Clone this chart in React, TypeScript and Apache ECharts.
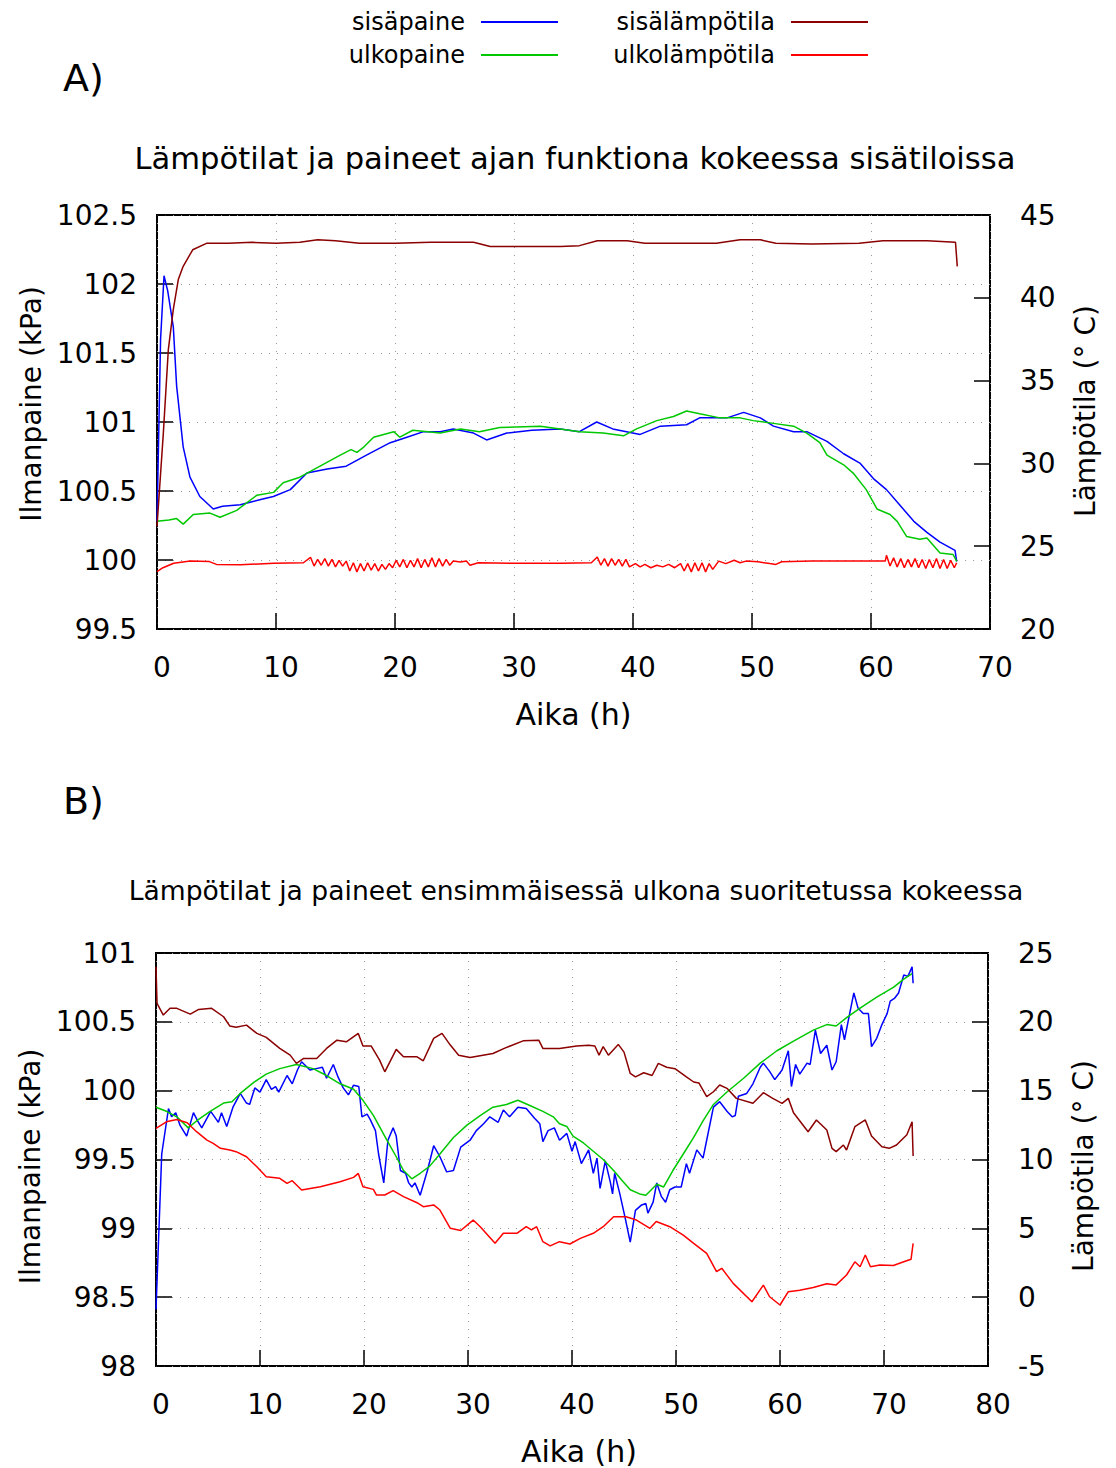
import React, { useEffect, useRef } from "react";
import * as echarts from "echarts";

// ---------- Legend / series names ----------
const NAME_SISAPAINE = "sisäpaine";
const NAME_ULKOPAINE = "ulkopaine";
const NAME_SISALAMPO = "sisälämpötila";
const NAME_ULKOLAMPO = "ulkolämpötila";

// ---------- Titles ----------
const TITLE_A = "Lämpötilat ja paineet ajan funktiona kokeessa sisätiloissa";
const TITLE_B = "Lämpötilat ja paineet ensimmäisessä ulkona suoritetussa kokeessa";
const X_NAME = "Aika (h)";
const Y_LEFT_NAME = "Ilmanpaine (kPa)";
const Y_RIGHT_NAME = "Lämpötila (° C)";

// ---------- Axis ranges [min, max, interval] ----------
const A_X_RANGE = [0, 70, 10];
const A_P_RANGE = [99.5, 102.5, 0.5];
const A_T_RANGE = [20, 45, 5];
const B_X_RANGE = [0, 80, 10];
const B_P_RANGE = [98, 101, 0.5];
const B_T_RANGE = [-5, 25, 5];

// ---------- Panel A data: [time h, value] ----------
const A_SISAPAINE = [
  [0, 100.28], [0.3, 101.6], [0.59, 102.06], [0.9, 101.95], [1.37, 101.69], [1.65, 101.26],
  [2.2, 100.82], [2.77, 100.6], [3.6, 100.46], [4.73, 100.37], [5.5, 100.39], [7.0, 100.4],
  [7.9, 100.42], [8.8, 100.44], [9.78, 100.46], [11.2, 100.51], [12.6, 100.63], [14.3, 100.66],
  [15.9, 100.68], [17.6, 100.76], [19.6, 100.85], [21.0, 100.89], [22.4, 100.93], [23.8, 100.93],
  [24.9, 100.95], [26.6, 100.92], [27.7, 100.87], [29.4, 100.92], [31.5, 100.94], [33.9, 100.95],
  [35.5, 100.93], [36.95, 101.0], [38.3, 100.95], [40.6, 100.91], [42.3, 100.97], [44.5, 100.98],
  [45.6, 101.03], [47.9, 101.03], [49.3, 101.07], [50.7, 101.03], [51.8, 100.97], [53.5, 100.93],
  [54.6, 100.93], [56.3, 100.86], [57.7, 100.77], [59.1, 100.7], [60.2, 100.59], [61.3, 100.51],
  [62.4, 100.4], [63.6, 100.28], [64.7, 100.2], [65.8, 100.13], [67.06, 100.07], [67.2, 99.99],
];

const A_ULKOPAINE = [
  [0, 100.28], [1.0, 100.29], [1.65, 100.3], [2.2, 100.26], [3.05, 100.33], [4.45, 100.34],
  [5.3, 100.31], [6.7, 100.36], [8.4, 100.47], [9.8, 100.49], [10.6, 100.56], [12.0, 100.6],
  [13.7, 100.68], [15.4, 100.76], [16.3, 100.8], [16.8, 100.78], [17.4, 100.82], [18.2, 100.89],
  [19.9, 100.93], [20.4, 100.89], [21.5, 100.94], [23.8, 100.92], [25.5, 100.95], [27.1, 100.93],
  [28.8, 100.96], [32.2, 100.97], [33.9, 100.95], [35.5, 100.93], [37.5, 100.92], [39.2, 100.9],
  [40.3, 100.95], [42.0, 101.01], [43.4, 101.04], [44.5, 101.08], [45.6, 101.06], [47.3, 101.03],
  [49.0, 101.03], [50.1, 101.01], [51.8, 100.99], [53.5, 100.97], [54.6, 100.92], [55.7, 100.85],
  [56.3, 100.76], [57.7, 100.69], [58.5, 100.63], [59.6, 100.51], [60.5, 100.37], [61.6, 100.33],
  [62.2, 100.28], [63.0, 100.17], [64.1, 100.15], [64.7, 100.16], [65.8, 100.05], [66.9, 100.04],
  [67.2, 99.99],
];

const A_SISALAMPO = [
  [0, 26.2], [0.53, 31.8], [0.95, 36.85], [1.37, 39.3], [1.79, 41.1], [2.2, 41.9], [3.0, 42.9],
  [4.2, 43.3], [6, 43.3], [8, 43.35], [10, 43.3], [12, 43.35], [13.5, 43.5], [15, 43.45],
  [17, 43.3], [20, 43.3], [23, 43.35], [26.6, 43.35], [28, 43.1], [31, 43.1], [33.9, 43.1],
  [35.5, 43.15], [37, 43.45], [39.5, 43.45], [41, 43.3], [44, 43.3], [47, 43.3], [49, 43.5],
  [50.7, 43.5], [52, 43.3], [55, 43.25], [59, 43.3], [61, 43.45], [64.7, 43.45], [67.1, 43.35],
  [67.25, 41.9],
];

const A_ULKOLAMPO = [
  [0, 23.46], [0.5, 23.7], [1.4, 23.97], [2.8, 24.1], [4.4, 24.07], [5.0, 23.9], [7.0, 23.88],
  [9.8, 23.97], [12.3, 24.0], [12.9, 24.33], [13.2, 23.8], [13.5, 24.2], [13.8, 23.85], [14.1, 24.25],
  [14.4, 23.8], [14.7, 24.2], [15.0, 23.75], [15.3, 24.15], [15.6, 23.8], [15.9, 24.1], [16.2, 23.5],
  [16.5, 24.0], [16.8, 23.45], [17.1, 23.95], [17.4, 23.5], [17.7, 24.0], [18.0, 23.55], [18.3, 23.95],
  [18.6, 23.5], [18.9, 23.9], [19.2, 23.6], [19.5, 23.95], [19.8, 23.7], [20.1, 24.15], [20.4, 23.75],
  [20.7, 24.2], [21.0, 23.7], [21.3, 24.15], [21.6, 23.75], [21.9, 24.25], [22.2, 23.7], [22.5, 24.2],
  [22.8, 23.75], [23.1, 24.3], [23.4, 23.75], [23.7, 24.25], [24.0, 23.8], [24.3, 24.2], [24.6, 23.85],
  [24.9, 24.1], [25.5, 24.05], [26.0, 24.1], [26.3, 23.85], [27, 24.0], [30, 23.97], [33.9, 23.97],
  [36.5, 24.0], [37.0, 24.35], [37.3, 23.85], [37.6, 24.25], [37.9, 23.8], [38.2, 24.25], [38.5, 23.85],
  [38.8, 24.2], [39.1, 23.8], [39.4, 24.2], [39.7, 23.75], [40.2, 23.95], [40.6, 23.75], [41.0, 23.9],
  [41.5, 23.7], [42, 23.85], [42.5, 23.75], [43, 23.9], [43.5, 23.7], [44.0, 23.95], [44.3, 23.5],
  [44.6, 23.95], [44.9, 23.45], [45.2, 24.0], [45.5, 23.5], [45.8, 24.0], [46.1, 23.45], [46.4, 23.95],
  [46.7, 23.6], [47.2, 24.1], [47.8, 23.95], [48.5, 24.15], [49.0, 24.0], [49.5, 24.1], [50.5, 24.06],
  [51.5, 23.95], [52, 23.9], [52.5, 24.06], [55, 24.1], [58, 24.1], [61.2, 24.1], [61.3, 24.45],
  [61.6, 23.8], [61.9, 24.3], [62.2, 23.75], [62.5, 24.25], [62.8, 23.7], [63.1, 24.2], [63.4, 23.75],
  [63.7, 24.25], [64.0, 23.7], [64.3, 24.2], [64.6, 23.65], [64.9, 24.2], [65.2, 23.7], [65.5, 24.25],
  [65.8, 23.65], [66.1, 24.2], [66.4, 23.65], [66.7, 24.15], [67.0, 23.7], [67.2, 24.0],
];

// ---------- Panel B data ----------
const B_SISAPAINE = [
  [0, 98.41], [0.55, 99.54], [1.2, 99.87], [1.5, 99.81], [1.9, 99.84], [2.3, 99.75], [2.95, 99.67],
  [3.6, 99.84], [4.0, 99.78], [4.4, 99.73], [5.26, 99.85], [6.0, 99.77], [6.3, 99.84], [6.8, 99.74],
  [7.4, 99.88], [8.1, 99.98], [8.7, 99.91], [9.0, 99.9], [9.5, 100.02], [10.0, 99.99], [10.6, 100.08],
  [11.1, 100.01], [11.5, 100.03], [11.8, 99.99], [12.6, 100.11], [13.1, 100.05], [13.6, 100.15],
  [14.0, 100.21], [14.8, 100.15], [15.4, 100.16], [16.0, 100.17], [16.4, 100.09], [17.05, 100.19],
  [17.5, 100.1], [18.0, 100.02], [18.5, 99.97], [19.0, 100.04], [19.5, 100.03], [19.8, 99.81],
  [20.3, 99.83], [20.6, 99.79], [21.1, 99.71], [21.4, 99.54], [21.9, 99.33], [22.3, 99.64],
  [22.8, 99.73], [23.1, 99.67], [23.5, 99.42], [24.0, 99.4], [24.3, 99.33], [24.6, 99.3],
  [24.9, 99.33], [25.4, 99.24], [26.1, 99.42], [26.7, 99.6], [27.3, 99.52], [27.95, 99.41],
  [28.6, 99.42], [29.3, 99.59], [30.2, 99.64], [30.8, 99.71], [31.5, 99.76], [32.1, 99.81],
  [32.9, 99.77], [33.4, 99.86], [34.0, 99.81], [34.8, 99.88], [35.6, 99.87], [36.4, 99.8],
  [36.9, 99.76], [37.2, 99.63], [37.7, 99.71], [38.3, 99.73], [38.8, 99.64], [39.5, 99.69],
  [40.0, 99.56], [40.3, 99.63], [40.9, 99.47], [41.6, 99.57], [42.05, 99.4], [42.4, 99.51],
  [42.7, 99.29], [43.2, 99.49], [43.7, 99.33], [43.9, 99.25], [44.1, 99.4], [44.6, 99.25],
  [45.1, 99.08], [45.6, 98.9], [46.1, 99.13], [46.7, 99.17], [47.1, 99.18], [47.3, 99.11],
  [47.8, 99.19], [48.15, 99.33], [48.6, 99.23], [49.0, 99.19], [49.4, 99.28], [49.9, 99.3],
  [50.5, 99.3], [51.0, 99.47], [51.3, 99.4], [52.0, 99.57], [52.6, 99.51], [52.95, 99.64],
  [53.6, 99.88], [54.2, 99.92], [54.9, 99.85], [55.4, 99.81], [55.7, 99.82], [56.0, 99.96],
  [56.8, 99.98], [57.4, 100.05], [58.1, 100.17], [58.4, 100.2], [59.0, 100.14], [59.5, 100.08],
  [60.2, 100.15], [60.8, 100.29], [61.1, 100.03], [61.5, 100.19], [61.9, 100.12], [62.6, 100.2],
  [62.9, 100.19], [63.4, 100.44], [63.9, 100.27], [64.5, 100.33], [65.0, 100.15], [65.4, 100.21],
  [65.9, 100.48], [66.2, 100.37], [66.7, 100.56], [67.1, 100.71], [67.5, 100.6], [68.0, 100.56],
  [68.5, 100.56], [68.8, 100.32], [69.3, 100.38], [69.8, 100.48], [70.3, 100.56], [70.6, 100.65],
  [71.0, 100.67], [71.4, 100.71], [71.9, 100.84], [72.3, 100.83], [72.7, 100.9], [72.8, 100.78],
];

const B_ULKOPAINE = [
  [0, 99.88], [1.0, 99.85], [2.0, 99.81], [3.1, 99.73], [3.9, 99.78], [5.2, 99.85], [6.5, 99.91],
  [7.3, 99.92], [8.1, 99.98], [9.4, 100.06], [10.6, 100.12], [11.9, 100.16], [13.5, 100.19],
  [15.1, 100.16], [16.4, 100.11], [17.7, 100.05], [19.0, 100.01], [19.9, 99.93], [20.9, 99.82],
  [22.2, 99.64], [23.1, 99.52], [23.8, 99.42], [24.6, 99.36], [25.4, 99.4], [26.3, 99.45],
  [27.3, 99.54], [28.6, 99.66], [29.9, 99.75], [31.2, 99.82], [32.4, 99.88], [33.7, 99.9],
  [34.8, 99.93], [36.0, 99.89], [37.2, 99.85], [38.2, 99.81], [38.8, 99.76], [39.5, 99.74],
  [40.1, 99.67], [41.1, 99.62], [42.05, 99.56], [43.0, 99.5], [44.0, 99.42], [44.9, 99.34],
  [45.6, 99.28], [46.5, 99.25], [47.1, 99.24], [48.15, 99.32], [48.8, 99.3], [49.7, 99.42],
  [50.7, 99.54], [51.7, 99.66], [52.6, 99.78], [53.6, 99.9], [54.9, 99.99], [56.5, 100.09],
  [58.1, 100.2], [59.7, 100.29], [61.3, 100.36], [63.2, 100.44], [64.5, 100.48], [65.4, 100.47],
  [66.4, 100.53], [67.7, 100.6], [69.3, 100.68], [70.9, 100.75], [71.9, 100.81], [72.7, 100.85],
];

const B_SISALAMPO = [
  [0, 24.0], [0.1, 21.34], [0.7, 20.49], [1.35, 20.98], [2.0, 20.98], [3.3, 20.56], [4.1, 20.9],
  [5.35, 20.98], [6.5, 20.37], [7.1, 19.69], [7.7, 19.6], [8.7, 19.76], [9.7, 19.16], [10.6, 18.87],
  [11.9, 18.07], [12.9, 17.58], [13.5, 16.98], [14.2, 17.34], [15.45, 17.34], [16.4, 18.07],
  [17.4, 18.67], [18.3, 18.55], [19.45, 19.16], [19.9, 18.24], [20.7, 18.24], [21.5, 17.22],
  [22.0, 16.37], [23.1, 18.0], [23.8, 17.46], [25.1, 17.46], [25.7, 17.17], [26.7, 18.8],
  [27.5, 19.16], [28.3, 18.31], [29.1, 17.58], [30.2, 17.41], [32.4, 17.7], [33.7, 18.14],
  [35.3, 18.62], [36.8, 18.67], [37.2, 18.07], [38.8, 18.07], [40.45, 18.24], [41.6, 18.3],
  [42.2, 18.24], [42.6, 17.58], [43.0, 18.2], [43.5, 17.58], [44.45, 18.36], [45.0, 17.8],
  [45.6, 16.25], [46.1, 16.0], [46.9, 16.3], [47.7, 16.1], [48.3, 16.98], [49.1, 16.7],
  [49.9, 16.6], [51.0, 16.0], [51.7, 15.63], [52.2, 15.56], [52.95, 14.56], [53.6, 14.92],
  [54.2, 15.41], [54.9, 15.17], [55.8, 14.44], [57.4, 14.08], [58.4, 14.85], [59.3, 14.44],
  [60.2, 14.08], [60.8, 14.44], [61.3, 13.4], [62.7, 12.02], [63.5, 12.87], [64.5, 12.14],
  [65.0, 10.81], [65.4, 10.57], [66.1, 11.05], [66.4, 10.69], [67.2, 12.38], [68.2, 12.87],
  [68.8, 11.7], [69.8, 10.93], [70.5, 10.81], [71.2, 11.05], [72.2, 11.8], [72.7, 12.74],
  [72.8, 10.25],
];

const B_ULKOLAMPO = [
  [0, 12.26], [1.0, 12.74], [2.0, 12.91], [3.0, 12.67], [3.9, 12.02], [4.9, 11.41], [5.5, 11.17],
  [6.2, 10.81], [7.1, 10.69], [7.7, 10.57], [8.7, 10.2], [9.7, 9.47], [10.6, 8.75], [11.9, 8.63],
  [12.6, 8.27], [13.1, 8.46], [14.0, 7.78], [15.8, 8.02], [17.7, 8.39], [19.0, 8.7], [19.45, 8.99],
  [19.9, 8.02], [20.9, 7.83], [21.2, 7.42], [22.0, 7.42], [22.8, 7.74], [23.8, 7.3], [25.1, 6.86],
  [25.7, 6.57], [26.7, 6.7], [27.3, 6.33], [28.3, 5.0], [29.3, 4.84], [30.5, 5.6], [31.2, 5.1],
  [32.6, 3.91], [33.4, 4.64], [34.7, 4.64], [35.6, 5.12], [36.1, 4.88], [36.6, 5.12], [37.2, 4.03],
  [37.9, 3.73], [38.8, 4.03], [39.8, 3.86], [40.8, 4.27], [42.05, 4.64], [43.0, 5.12], [44.0, 5.84],
  [45.2, 5.84], [46.2, 5.6], [47.5, 5.0], [48.1, 5.5], [49.4, 5.12], [50.7, 4.51], [51.7, 3.91],
  [52.95, 3.18], [53.9, 1.85], [54.4, 2.1], [55.5, 1.0], [57.3, -0.33], [58.4, 0.88], [59.0, 0.03],
  [60.0, -0.57], [60.8, 0.4], [61.9, 0.5], [63.2, 0.7], [64.5, 0.98], [65.4, 0.89], [66.4, 1.61],
  [67.2, 2.57], [67.7, 2.21], [68.2, 3.06], [68.7, 2.21], [69.6, 2.33], [70.9, 2.3], [71.9, 2.57],
  [72.6, 2.75], [72.8, 3.91],
];

// ---------- Styles ----------
const FONT = "DejaVu Sans";
const C_SISAPAINE = "#0000ff";
const C_ULKOPAINE = "#00c800";
const C_SISALAMPO = "#8b0000";
const C_ULKOLAMPO = "#ff0000";

function buildOption() {
  const tickLabel = { fontFamily: FONT, fontSize: 28, color: "#000" };
  const nameStyle = { fontFamily: FONT, fontSize: 28, color: "#000" };
  const gridLine = { show: true, lineStyle: { color: "#999", width: 1, type: [1, 7] } };
  const tick = { show: true, inside: true, length: 16, lineStyle: { color: "#000", width: 1.5 } };

  const xAxisOf = (gi: number, r: number[], namePad: number[]) => ({
    type: "value",
    gridIndex: gi,
    min: r[0],
    max: r[1],
    interval: r[2],
    axisLine: { show: false, onZero: false },
    axisTick: tick,
    axisLabel: { ...tickLabel, margin: 24, padding: [0, 0, 0, 10] },
    splitLine: gridLine,
    name: X_NAME,
    nameLocation: "middle",
    nameGap: 70,
    nameTextStyle: { ...nameStyle, fontSize: 30, padding: namePad },
  });
  const yLeftOf = (gi: number, r: number[], namePad: number[]) => ({
    type: "value",
    gridIndex: gi,
    position: "left",
    min: r[0],
    max: r[1],
    interval: r[2],
    axisLine: { show: false, onZero: false },
    axisTick: tick,
    axisLabel: { ...tickLabel, margin: 20 },
    splitLine: gridLine,
    name: Y_LEFT_NAME,
    nameLocation: "middle",
    nameRotate: 90,
    nameGap: 110,
    nameTextStyle: { ...nameStyle, padding: namePad },
  });
  const yRightOf = (gi: number, r: number[], namePad: number[]) => ({
    type: "value",
    gridIndex: gi,
    position: "right",
    min: r[0],
    max: r[1],
    interval: r[2],
    axisLine: { show: false, onZero: false },
    axisTick: tick,
    axisLabel: { ...tickLabel, margin: 30 },
    splitLine: { show: false },
    name: Y_RIGHT_NAME,
    nameLocation: "middle",
    nameRotate: 90,
    nameGap: 81,
    nameTextStyle: { ...nameStyle, padding: namePad },
  });

  const line = (name: string, color: string, data: number[][], xi: number, yi: number) => ({
    type: "line",
    name,
    data,
    xAxisIndex: xi,
    yAxisIndex: yi,
    color,
    showSymbol: false,
    symbol: "none",
    lineStyle: { color, width: 1.5 },
    itemStyle: { color },
    clip: true,
    z: 3,
  });

  const legendOf = (name: string, right: number, top: number) => ({
    data: [name],
    right,
    top,
    orient: "horizontal",
    align: "right",
    icon: "rect",
    itemWidth: 77,
    itemHeight: 2,
    padding: 0,
    selectedMode: false,
    textStyle: { fontFamily: FONT, fontSize: 24, color: "#000", lineHeight: 30, padding: [0, 11, 0, 0] },
  });

  const text = (t: string, x: number, y: number, size: number, align: string) => ({
    type: "text",
    x,
    y,
    style: {
      text: t,
      fontFamily: FONT,
      fontSize: size,
      fill: "#000",
      textAlign: align,
      textVerticalAlign: "middle",
      align,
      verticalAlign: "middle",
    },
  });

  return {
    animation: false,
    backgroundColor: "#fff",
    grid: [
      { left: 157, top: 215, width: 833, height: 414, show: true, borderColor: "#000", borderWidth: 2, backgroundColor: "transparent" },
      { left: 156, top: 953, width: 832, height: 413, show: true, borderColor: "#000", borderWidth: 2, backgroundColor: "transparent" },
    ],
    xAxis: [xAxisOf(0, A_X_RANGE, [0, 0, 0, 0]), xAxisOf(1, B_X_RANGE, [0, 0, 0, 14])],
    yAxis: [
      yLeftOf(0, A_P_RANGE, [0, 0, 0, 36]),
      yRightOf(0, A_T_RANGE, [0, 0, 0, 22]),
      yLeftOf(1, B_P_RANGE, [0, 14, 0, 0]),
      yRightOf(1, B_T_RANGE, [0, 13, 0, 0]),
    ],
    legend: [
      legendOf(NAME_SISAPAINE, 558, 7),
      legendOf(NAME_ULKOPAINE, 558, 40),
      legendOf(NAME_SISALAMPO, 248, 7),
      legendOf(NAME_ULKOLAMPO, 248, 40),
    ],
    graphic: [
      text("A)", 63, 78, 38, "left"),
      text("B)", 63, 801, 38, "left"),
      text(TITLE_A, 575, 158, 30.6, "center"),
      text(TITLE_B, 576, 890, 26.6, "center"),
    ],
    series: [
      line(NAME_SISAPAINE, C_SISAPAINE, A_SISAPAINE, 0, 0),
      line(NAME_ULKOPAINE, C_ULKOPAINE, A_ULKOPAINE, 0, 0),
      line(NAME_SISALAMPO, C_SISALAMPO, A_SISALAMPO, 0, 1),
      line(NAME_ULKOLAMPO, C_ULKOLAMPO, A_ULKOLAMPO, 0, 1),
      line(NAME_SISAPAINE, C_SISAPAINE, B_SISAPAINE, 1, 2),
      line(NAME_ULKOPAINE, C_ULKOPAINE, B_ULKOPAINE, 1, 2),
      line(NAME_SISALAMPO, C_SISALAMPO, B_SISALAMPO, 1, 3),
      line(NAME_ULKOLAMPO, C_ULKOLAMPO, B_ULKOLAMPO, 1, 3),
    ],
  };
}

export default function App() {
  const ref = useRef<HTMLDivElement>(null);
  useEffect(() => {
    document.body.style.margin = "0";
    if (!ref.current) return;
    const chart = echarts.init(ref.current, undefined, { renderer: "svg" });
    chart.setOption(buildOption() as any);
    return () => chart.dispose();
  }, []);
  return <div ref={ref} style={{ width: 1116, height: 1468 }} />;
}
